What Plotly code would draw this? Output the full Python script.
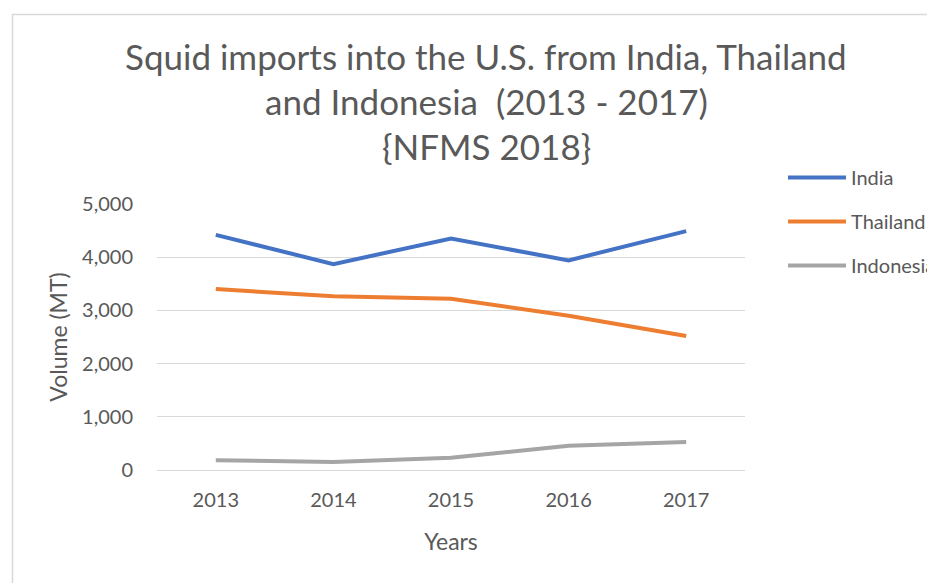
import plotly.graph_objects as go

years = ["2013", "2014", "2015", "2016", "2017"]
india = [4420, 3870, 4350, 3940, 4490]
thailand = [3400, 3265, 3220, 2900, 2520]
indonesia = [185, 150, 230, 455, 525]

FONT = "Lato, Open Sans, sans-serif"
GRAY = "#595959"

fig = go.Figure()
for name, vals, col in [("India", india, "#4472C4"),
                        ("Thailand", thailand, "#ED7D31"),
                        ("Indonesia", indonesia, "#A5A5A5")]:
    fig.add_trace(go.Scatter(x=years, y=vals, name=name, mode="lines",
                             legendgroup=name,
                             line=dict(color=col, width=4)))

# page is offset 8px by body margin: figure coords = screen - 8
OFF = 8
L, R, T, B = 157 - OFF, 745 - OFF, 204 - OFF, 470 - OFF
W, H = 935 - OFF, 583 - OFF
pw, ph = R - L, B - T

def px(x):
    return (x - OFF - L) / pw

def py(y):
    return (B - (y - OFF)) / ph

fig.update_layout(
    width=W, height=H,
    margin=dict(l=L, r=W - R, t=T, b=H - B, autoexpand=False),
    paper_bgcolor="white", plot_bgcolor="white",
    font=dict(family=FONT, color=GRAY, size=20),
    showlegend=True,
    legend=dict(x=px(783), y=py(158), xanchor="left", yanchor="top",
                font=dict(size=20, color=GRAY), tracegroupgap=15,
                itemwidth=58,
                bgcolor="rgba(0,0,0,0)"),
    xaxis=dict(type="category", range=[-0.5, 4.5], showgrid=False,
               showline=False, ticks="", tickfont=dict(size=20, color=GRAY),
               ticklabelstandoff=16,
               title=dict(text="Years", font=dict(size=23, color=GRAY), standoff=23)),
    yaxis=dict(range=[0, 5000], dtick=1000, tickformat=",", showgrid=True,
               gridcolor="#D9D9D9", gridwidth=1, zeroline=True,
               zerolinecolor="#D9D9D9", zerolinewidth=1, showline=False,
               ticks="", tickfont=dict(size=20, color=GRAY), ticklabelstandoff=23,
               title=dict(text="Volume (MT)", font=dict(size=23, color=GRAY), standoff=7)),
)

title_lines = ["Squid imports into the U.S. from India, Thailand",
               "and Indonesia  (2013 - 2017)",
               "{NFMS 2018}"]
for t, yc in zip(title_lines, [56, 101, 146]):
    fig.add_annotation(text=t, xref="paper", yref="paper", x=px(486), y=py(yc),
                       xanchor="center", yanchor="middle", showarrow=False,
                       font=dict(family=FONT, size=35, color=GRAY))

fig.add_shape(type="rect", xref="paper", yref="paper",
              x0=px(12.5), x1=px(950), y0=py(600), y1=py(14.5),
              line=dict(color="#D9D9D9", width=1.5), layer="below")

fig.write_html("out.html")
